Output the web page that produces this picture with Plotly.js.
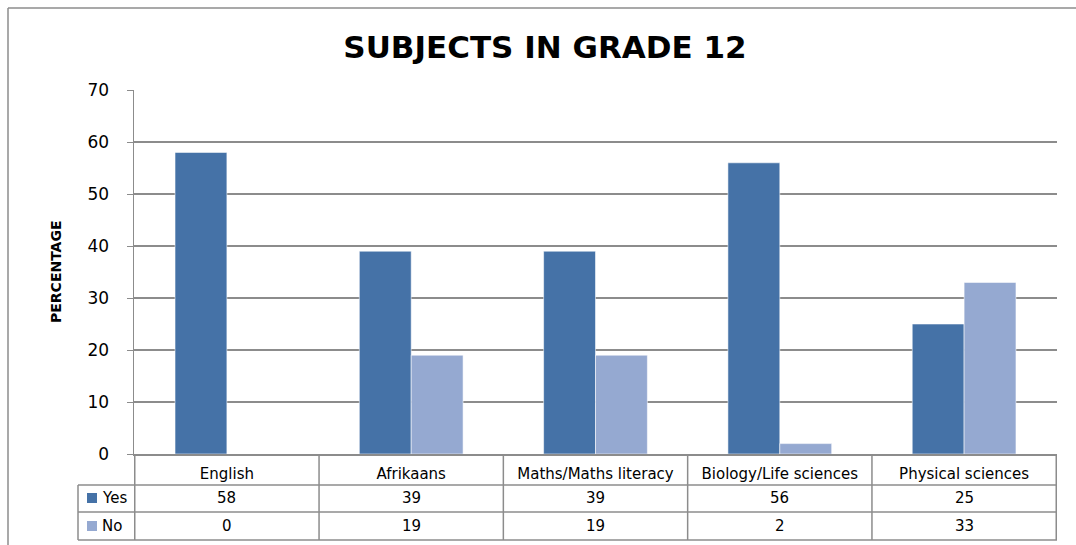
<!DOCTYPE html>
<html>
<head>
<meta charset="utf-8">
<script src="https://cdn.plot.ly/plotly-3.0.1.min.js"></script>
<style>html,body{margin:0;padding:0;background:#fff;}#chart{width:1076px;height:545px;}</style>
</head>
<body>
<div id="chart"></div>
<script>
const categories = ["English", "Afrikaans", "Maths/Maths literacy", "Biology/Life sciences", "Physical sciences"];
const seriesNames = ["Yes", "No"];
const yesValues = [58, 39, 39, 56, 25];
const noValues = [0, 19, 19, 2, 33];
const yTickVals = [0, 10, 20, 30, 40, 50, 60, 70];

const colors = ["#4572A7", "#95A9D1"];
const lineCol = "#8c8c8c";
const FONT = "DejaVu Sans, Open Sans, sans-serif";

const traces = [
  {type: "bar", name: seriesNames[0], x: categories, y: yesValues,
   marker: {color: colors[0], line: {color: "rgba(255,255,255,0.55)", width: 1}}, showlegend: false},
  {type: "bar", name: seriesNames[1], x: categories, y: noValues,
   marker: {color: colors[1], line: {color: "rgba(255,255,255,0.55)", width: 1}}, showlegend: false}
];

// plot area: x 134..1057, y 90..454 (height 364)
const H = 364, W = 923;
const py = p => (454 - p) / H;
const px = p => (p - 134) / W;

const shapes = [];
const annotations = [];
const n = categories.length;
// outer frame
shapes.push({type: "line", xref: "paper", yref: "paper", x0: px(8), x1: px(1090), y0: py(8), y1: py(8), line: {color: lineCol, width: 1.5}});
shapes.push({type: "line", xref: "paper", yref: "paper", x0: px(8), x1: px(8), y0: py(8), y1: py(560), line: {color: lineCol, width: 1.5}});
// table vertical lines
for (let i = 0; i <= n; i++) {
  shapes.push({type: "line", xref: "x", yref: "paper", x0: i - 0.5, x1: i - 0.5, y0: 0, y1: py(540), line: {color: lineCol, width: 1.5}});
}
// table horizontal lines
[485, 512, 540].forEach(p => {
  shapes.push({type: "line", xref: "paper", yref: "paper", x0: px(78), x1: 1, y0: py(p), y1: py(p), line: {color: lineCol, width: 1.5}});
});
// legend column left border
shapes.push({type: "line", xref: "paper", yref: "paper", x0: px(78), x1: px(78), y0: py(485), y1: py(540), line: {color: lineCol, width: 1.5}});

const rows = [{vals: yesValues, c: 498}, {vals: noValues, c: 526}];
rows.forEach((r, k) => {
  shapes.push({type: "rect", xref: "paper", yref: "paper", x0: px(87), x1: px(97), y0: py(r.c + 5), y1: py(r.c - 5), fillcolor: colors[k], line: {width: 0}});
  annotations.push({xref: "paper", yref: "paper", x: px(100), y: py(r.c), xanchor: "left", yanchor: "middle", text: seriesNames[k], showarrow: false, font: {family: FONT, size: 15, color: "#000"}});
  r.vals.forEach((v, i) => {
    annotations.push({xref: "x", yref: "paper", x: i, y: py(r.c), xanchor: "center", yanchor: "middle", text: String(v), showarrow: false, font: {family: FONT, size: 15, color: "#000"}});
  });
});

// y axis title
annotations.push({xref: "paper", yref: "paper", x: px(56), y: py(272), text: "<b>PERCENTAGE</b>", textangle: -90, showarrow: false, xanchor: "center", yanchor: "middle", font: {family: FONT, size: 14, color: "#000"}});

const layout = {
  width: 1076, height: 545,
  margin: {l: 134, r: 19, t: 90, b: 91, pad: 0},
  paper_bgcolor: "#fff", plot_bgcolor: "#fff",
  title: {text: "<b>SUBJECTS IN GRADE 12</b>", x: 545/1076, xref: "container", xanchor: "center", y: 1 - 47/545, yanchor: "middle", font: {family: FONT, size: 31, color: "#000"}},
  barmode: "group", bargap: 0.437, bargroupgap: 0,
  xaxis: {type: "category", showgrid: false, showline: true, linecolor: lineCol, linewidth: 1.5, ticks: "", ticklabelstandoff: 5,
          tickfont: {family: FONT, size: 15, color: "#000"}, fixedrange: true},
  yaxis: {range: [0, 70], tickvals: yTickVals, showgrid: true, gridcolor: lineCol, gridwidth: 1.5, showline: true, linecolor: lineCol, linewidth: 1.5,
          ticks: "outside", ticklen: 6, tickcolor: lineCol, ticklabelstandoff: 14, zeroline: false,
          tickfont: {family: FONT, size: 17, color: "#000"}, fixedrange: true},
  shapes: shapes, annotations: annotations, showlegend: false
};
Plotly.newPlot("chart", traces, layout, {displayModeBar: false, staticPlot: true});
</script>
</body>
</html>
